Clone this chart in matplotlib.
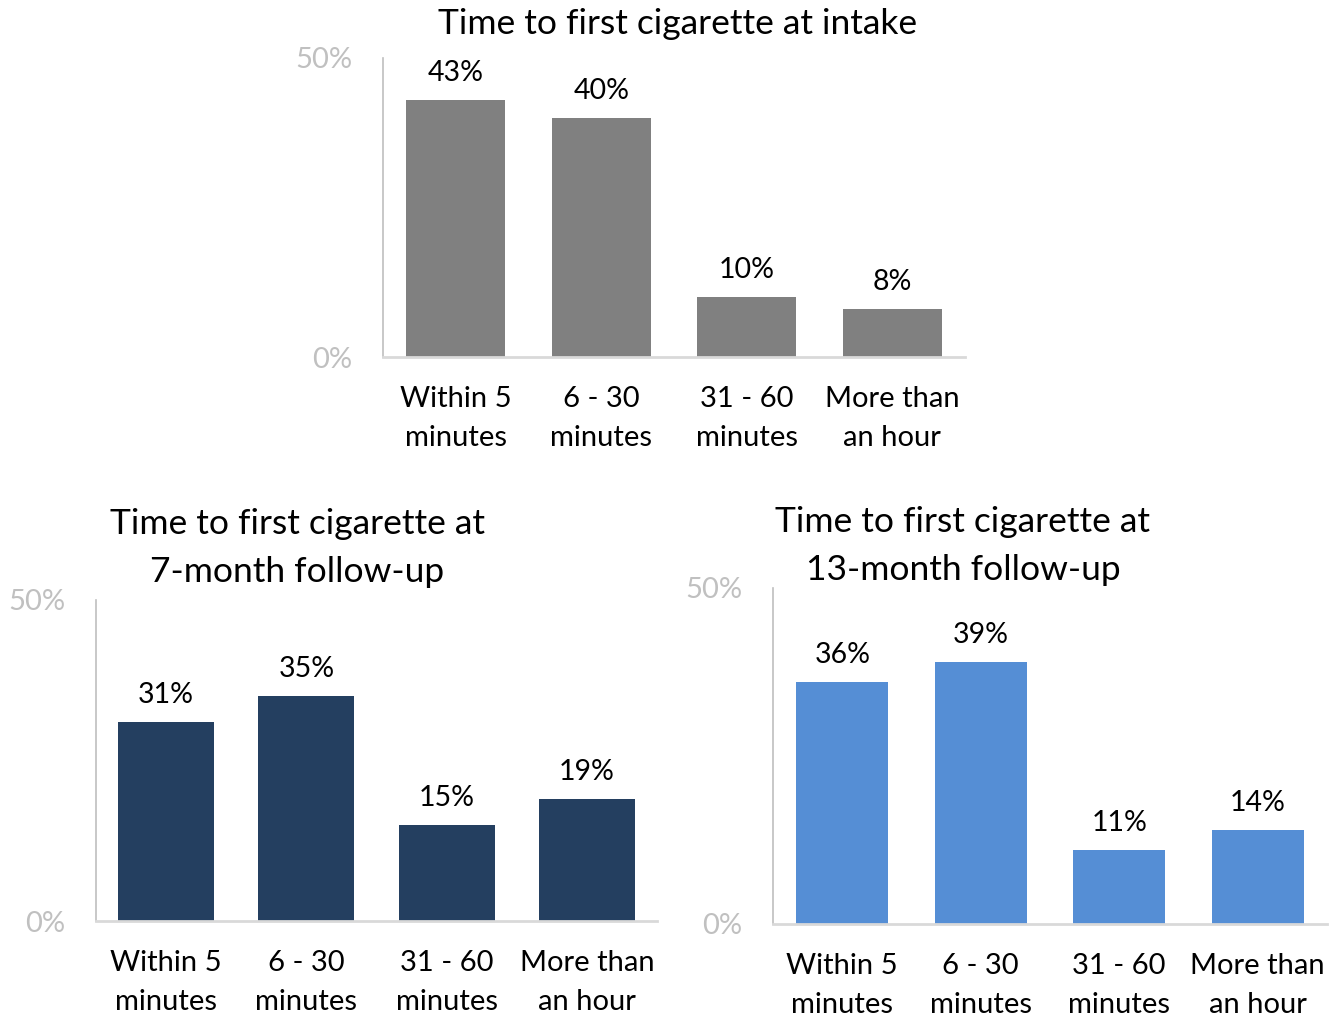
import matplotlib.pyplot as plt

plt.rcParams['font.family'] = ['Lato', 'DejaVu Sans']

categories = ['Within 5\nminutes', '6 - 30\nminutes', '31 - 60\nminutes', 'More than\nan hour']
intake = [43, 40, 10, 8]
month7 = [31, 35, 15, 19]
month13 = [36, 39, 11, 14]

W, H = 1344, 1018
fig = plt.figure(figsize=(W / 100, H / 100), dpi=100)


def panel(left, right, top, bottom, values, color, title, title_xy, bar_w):
    ax = fig.add_axes([left / W, 1 - bottom / H, (right - left) / W, (bottom - top) / H])
    x = range(len(values))
    bars = ax.bar(x, [v / 100 for v in values], width=bar_w, color=color, zorder=2)
    for b, v in zip(bars, values):
        ax.annotate(f'{v}%', (b.get_x() + b.get_width() / 2, b.get_height()),
                    xytext=(0, 10), textcoords='offset points',
                    ha='center', va='bottom', fontsize=20.5, color='black')
    ax.set_xlim(-0.5, 3.5)
    ax.set_ylim(0, 0.5)
    ax.set_yticks([0, 0.5])
    ax.set_yticklabels(['0%', '50%'])
    ax.set_xticks(list(x))
    ax.set_xticklabels(categories, fontsize=21, linespacing=1.6)
    ax.tick_params(axis='y', length=0, pad=22, labelsize=21, labelcolor='#c0c0c0')
    ax.tick_params(axis='x', length=0, pad=21)
    for s in ['top', 'right']:
        ax.spines[s].set_visible(False)
    ax.spines['left'].set_color('#bfbfbf')
    ax.spines['left'].set_linewidth(1.2)
    ax.spines['bottom'].set_color('#d9d9d9')
    ax.spines['bottom'].set_linewidth(2)
    fig.text(title_xy[0] / W, 1 - title_xy[1] / H, title, ha='center', va='top',
             fontsize=25.5, linespacing=1.6)
    return ax


panel(383, 965, 58, 357, intake, '#808080',
      'Time to first cigarette at intake', (678, 8), 0.68)
panel(96, 657, 600, 921, month7, '#243f60',
      'Time to first cigarette at\n7-month follow-up', (297, 508), 0.686)
panel(773, 1327, 588, 924, month13, '#558ed5',
      'Time to first cigarette at\n13-month follow-up', (963, 506), 0.665)

fig.savefig('out.png', dpi=100, facecolor='white')
